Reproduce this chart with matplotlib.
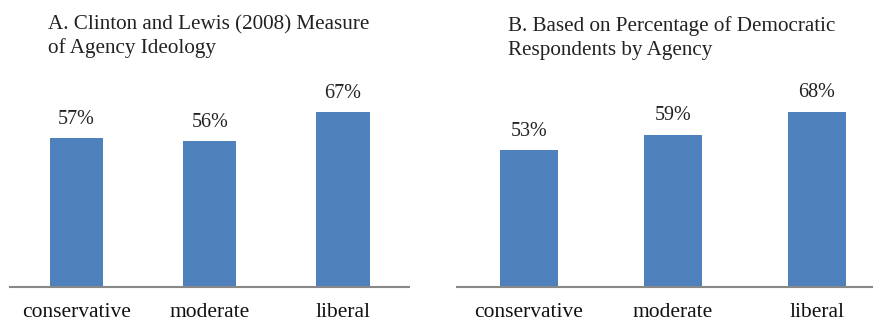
import matplotlib
matplotlib.use("Agg")
import matplotlib.pyplot as plt

# data
categories = ["conservative", "moderate", "liberal"]
clinton_lewis = [57, 56, 67]
dem_share = [53, 59, 68]
title_a = ["A. Clinton and Lewis (2008) Measure", "of Agency Ideology"]
title_b = ["B. Based on Percentage of Democratic", "Respondents by Agency"]

plt.rcParams['font.family'] = ['Liberation Serif', 'DejaVu Serif']

BAR_COLOR = '#4F81BD'
TEXT_COLOR = '#222222'
W, H = 881, 322

fig = plt.figure(figsize=(W / 100, H / 100), dpi=100)

# axes rectangles in pixels: left, baseline y (from top), width, height, xmax
panels = [
    (10, 286.7, 399.5, 260.0, 2.5, clinton_lewis),
    (456.7, 286.7, 415.3, 257.5, 2.384, dem_share),
]

for (left, base, width, height, xmax, values) in panels:
    ax = fig.add_axes([left / W, (H - base) / H, width / W, height / H])
    x = list(range(len(categories)))
    bars = ax.bar(x, values, width=0.4, color=BAR_COLOR)
    for b, v in zip(bars, values):
        ax.annotate(f"{v}%", (b.get_x() + b.get_width() / 2, v),
                    xytext=(0, 14.5), textcoords='offset pixels',
                    ha='center', va='baseline', fontsize=14.5, color=TEXT_COLOR)
    for xi, cat in zip(x, categories):
        ax.annotate(cat, (xi, 0), xytext=(0, -30), textcoords='offset pixels',
                    ha='center', va='baseline', fontsize=15.5, color='#111111',
                    annotation_clip=False)
    ax.set_xlim(-0.5, xmax)
    ax.set_ylim(0, 100)
    ax.set_xticks([])
    ax.set_yticks([])
    for s in ['top', 'right', 'left']:
        ax.spines[s].set_visible(False)
    ax.spines['bottom'].set_color('#888888')
    ax.spines['bottom'].set_linewidth(1.5)
    ax.patch.set_alpha(0)

# panel titles, one line at a time (baselines measured in pixels from top)
for (tx, baselines, lines) in [(48.3, (29, 53), title_a),
                               (508.3, (31.5, 55.5), title_b)]:
    for yb, line in zip(baselines, lines):
        fig.text(tx / W, 1 - yb / H, line, ha='left', va='baseline',
                 fontsize=15.2, color=TEXT_COLOR)

fig.savefig("out.png", dpi=100)
